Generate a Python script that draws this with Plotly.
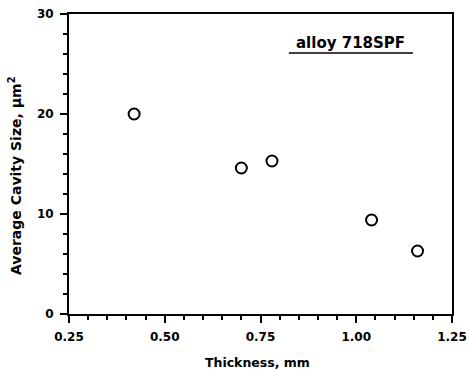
import plotly.graph_objects as go

# Data
thickness_mm = [0.42, 0.70, 0.78, 1.04, 1.16]
cavity_size_um2 = [20.0, 14.6, 15.3, 9.4, 6.3]

x_tick_vals = [0.25, 0.50, 0.75, 1.00, 1.25]
x_tick_text = ["0.25", "0.50", "0.75", "1.00", "1.25"]
y_tick_vals = [0, 10, 20, 30]
y_tick_text = ["0", "10", "20", "30"]

FONT = "DejaVu Sans, Verdana, sans-serif"

fig = go.Figure()
fig.add_trace(go.Scatter(
    x=thickness_mm, y=cavity_size_um2, mode="markers",
    marker=dict(symbol="circle-open", size=11, color="black", line=dict(width=2, color="black")),
    showlegend=False,
))

axis_common = dict(
    showgrid=False, zeroline=False, showline=True, linecolor="black", linewidth=2,
    mirror=True, ticks="outside", tickcolor="black", tickwidth=2, ticklen=7,
    tickfont=dict(family=FONT, size=12, color="black", weight="bold"),
    automargin=False, ticklabeloverflow="allow",
)

fig.update_xaxes(
    range=[0.25, 1.25], tickvals=x_tick_vals, ticktext=x_tick_text,
    minor=dict(dtick=0.05, ticks="outside", ticklen=4, tickwidth=2, tickcolor="black"),
    ticklabelstandoff=4,
    **axis_common,
)
fig.update_yaxes(
    range=[0, 30], tickvals=y_tick_vals, ticktext=y_tick_text,
    minor=dict(dtick=2, ticks="outside", ticklen=4, tickwidth=2, tickcolor="black"),
    ticklabelstandoff=4,
    **axis_common,
)

# Axis titles (placed as annotations to match the reference placement)
fig.add_annotation(
    x=0.491, y=-0.16, xref="paper", yref="paper", text="Thickness, mm", showarrow=False,
    xanchor="center", yanchor="middle",
    font=dict(family=FONT, size=12.5, color="black", weight="bold"),
)
fig.add_annotation(
    x=-0.141, y=0.46, xref="paper", yref="paper", text="Average Cavity Size, µm<sup>2</sup>",
    showarrow=False, textangle=-90, xanchor="center", yanchor="middle",
    font=dict(family=FONT, size=14, color="black", weight="bold"),
)

fig.add_annotation(
    x=0.986, y=27.1, xref="x", yref="y", text="alloy 718SPF", showarrow=False,
    font=dict(family=FONT, size=15, color="black", weight="bold"),
)
fig.add_shape(type="line", xref="x", yref="y", x0=0.824, x1=1.148, y0=26.1, y1=26.1,
              line=dict(color="black", width=1.5))

fig.update_layout(
    width=468, height=369,
    margin=dict(l=69, r=16, t=14, b=55),
    paper_bgcolor="white", plot_bgcolor="white",
    hovermode=False,
)

# remove the default 8px body margin so the figure fills the window exactly
fig.write_html("out.html", config={"displayModeBar": False, "staticPlot": True},
               post_script="document.body.style.margin='0';")
